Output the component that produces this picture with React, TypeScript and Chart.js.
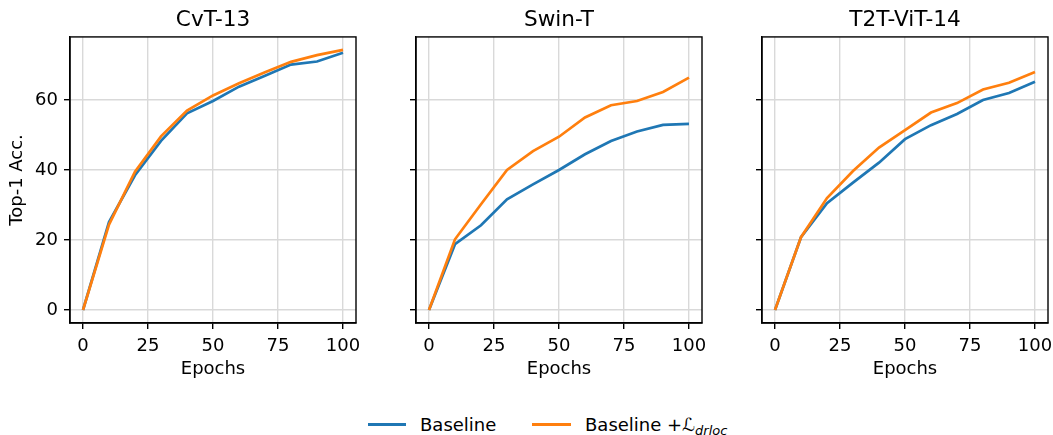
import React, { useEffect, useRef } from "react";
import { Chart, registerables } from "chart.js";

Chart.register(...registerables);

const epochs = [0, 10, 20, 30, 40, 50, 60, 70, 80, 90, 100];
const cvtBaseline = [0, 25.1, 38.5, 48.3, 56.2, 59.7, 63.8, 66.9, 70.1, 71.0, 73.5];
const cvtDrloc = [0, 24.4, 39.5, 49.6, 57.0, 61.3, 64.8, 67.9, 70.9, 72.8, 74.3];
const swinBaseline = [0, 18.8, 24.2, 31.6, 35.9, 40.0, 44.5, 48.3, 51.0, 52.9, 53.2];
const swinDrloc = [0, 20.2, 30.2, 40.0, 45.4, 49.5, 55.0, 58.5, 59.7, 62.3, 66.4];
const t2tBaseline = [0, 20.8, 30.5, 36.4, 42.1, 48.8, 52.8, 56.0, 60.0, 62.0, 65.2];
const t2tDrloc = [0, 20.8, 32.0, 39.7, 46.4, 51.4, 56.4, 59.1, 63.0, 64.9, 68.0];

const panelTitles = ["CvT-13", "Swin-T", "T2T-ViT-14"];
const baselineSeries = [cvtBaseline, swinBaseline, t2tBaseline];
const drlocSeries = [cvtDrloc, swinDrloc, t2tDrloc];
const xTicks = [0, 25, 50, 75, 100];
const yTicks = [0, 20, 40, 60];
const legendLabels = ["Baseline", "Baseline +"];

const BLUE = "#1f77b4";
const ORANGE = "#ff7f0e";
const FONT = "'DejaVu Sans', sans-serif";

const allVals = [...baselineSeries.flat(), ...drlocSeries.flat()];
const dMin = Math.min(...allVals);
const dMax = Math.max(...allVals);
const yMargin = 0.05 * (dMax - dMin);
const xMargin = 0.05 * (epochs[epochs.length - 1] - epochs[0]);

const spinePlugin = {
  id: "spines",
  afterDraw(chart: any) {
    const { ctx, chartArea } = chart;
    ctx.save();
    ctx.strokeStyle = "#000";
    ctx.lineWidth = 1.4;
    ctx.strokeRect(chartArea.left, chartArea.top, chartArea.right - chartArea.left, chartArea.bottom - chartArea.top);
    ctx.restore();
  },
};

function Panel({ idx }: { idx: number }) {
  const ref = useRef<HTMLCanvasElement>(null);
  useEffect(() => {
    if (!ref.current) return;
    const first = idx === 0;
    const chart = new Chart(ref.current, {
      type: "line",
      data: {
        datasets: [
          {
            label: "Baseline",
            data: epochs.map((e, i) => ({ x: e, y: baselineSeries[idx][i] })),
            borderColor: BLUE,
            backgroundColor: BLUE,
            borderWidth: 2.7,
            pointRadius: 0,
            tension: 0,
            order: 1,
          },
          {
            label: "Baseline + L_drloc",
            data: epochs.map((e, i) => ({ x: e, y: drlocSeries[idx][i] })),
            borderColor: ORANGE,
            backgroundColor: ORANGE,
            borderWidth: 2.7,
            pointRadius: 0,
            tension: 0,
            order: 0,
          },
        ],
      },
      options: {
        animation: false,
        responsive: false,
        maintainAspectRatio: false,
        layout: { padding: { left: 0, right: 5, top: 0, bottom: 0 } },
        plugins: {
          legend: { display: false },
          tooltip: { enabled: false },
          title: {
            display: true,
            text: panelTitles[idx],
            fullSize: false,
            color: "#000",
            font: { family: FONT, size: 21.6, weight: "normal", lineHeight: 1.2 },
            padding: { top: 7, bottom: 4 },
          },
        },
        scales: {
          x: {
            type: "linear",
            min: epochs[0] - xMargin,
            max: epochs[epochs.length - 1] + xMargin,
            afterBuildTicks: (s: any) => {
              s.ticks = xTicks.map((v) => ({ value: v }));
            },
            afterFit: (s: any) => {
              s.height = 67;
              s.paddingLeft = 0;
              s.paddingRight = 0;
            },
            ticks: {
              color: "#000",
              font: { family: FONT, size: 18 },
              padding: 7,
              maxRotation: 0,
            },
            grid: {
              color: "#d9d9d9",
              lineWidth: 1.4,
              tickColor: "#000",
              tickLength: 6,
              drawTicks: true,
            },
            border: { display: true, color: "#000", width: 1.4 },
            title: {
              display: true,
              text: "Epochs",
              color: "#000",
              font: { family: FONT, size: 18 },
              padding: { top: 0, bottom: 10 },
            },
          },
          y: {
            type: "linear",
            min: dMin - yMargin,
            max: dMax + yMargin,
            afterBuildTicks: (s: any) => {
              s.ticks = yTicks.map((v) => ({ value: v }));
            },
            afterFit: (s: any) => {
              s.width = 70;
              s.paddingTop = 0;
              s.paddingBottom = 0;
            },
            ticks: {
              display: first,
              color: "#000",
              font: { family: FONT, size: 18 },
              padding: 6,
            },
            grid: {
              color: "#d9d9d9",
              lineWidth: 1.4,
              tickColor: "#000",
              tickLength: 6,
              drawTicks: true,
            },
            border: { display: true, color: "#000", width: 1.4 },
            title: {
              display: first,
              text: "Top-1 Acc.",
              color: "#000",
              font: { family: FONT, size: 18 },
              padding: { top: 6.5, bottom: 0 },
            },
          },
        },
      },
      plugins: [spinePlugin],
    } as any);
    return () => chart.destroy();
  }, [idx]);
  return (
    <canvas
      ref={ref}
      width={361}
      height={390}
      style={{ position: "absolute", left: idx * 346, top: 0, width: 361, height: 390 }}
    />
  );
}

export default function App() {
  const textStyle: React.CSSProperties = {
    position: "absolute",
    top: 413,
    fontFamily: FONT,
    fontSize: 18,
    lineHeight: "24px",
    color: "#000",
    whiteSpace: "nowrap",
  };
  return (
    <div style={{ position: "absolute", left: 0, top: 0, width: 1053, height: 435, background: "#fff", overflow: "hidden" }}>
      {[0, 1, 2].map((i) => (
        <Panel key={i} idx={i} />
      ))}
      <div style={{ position: "absolute", left: 368, top: 423, width: 38, height: 2.7, background: BLUE }} />
      <div style={{ ...textStyle, left: 420 }}>{legendLabels[0]}</div>
      <div style={{ position: "absolute", left: 532, top: 423, width: 39, height: 2.7, background: ORANGE }} />
      <div style={{ ...textStyle, left: 585 }}>
        {legendLabels[1]}
        <span style={{ fontStyle: "italic" }}>ℒ</span>
        <sub style={{ fontStyle: "italic", fontSize: 13, verticalAlign: "-4px", lineHeight: 0 }}>drloc</sub>
      </div>
    </div>
  );
}
